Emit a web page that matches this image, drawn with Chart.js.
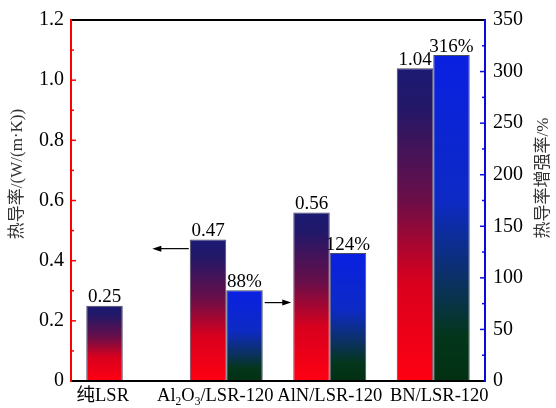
<!DOCTYPE html>
<html>
<head>
<meta charset="utf-8">
<script src="https://cdn.jsdelivr.net/npm/chart.js@4"></script>
<style>
  html, body { margin: 0; padding: 0; background: #fff; }
  #wrap { width: 556px; height: 408px; }
</style>
</head>
<body>
<div id="wrap"><canvas id="myChart" width="556" height="408"></canvas></div>
<script>
const categories = ['纯LSR', 'Al₂O₃/LSR-120', 'AlN/LSR-120', 'BN/LSR-120'];
const conductivity = [0.25, 0.47, 0.56, 1.04];
const enhancement = [null, 88, 124, 316];
const leftTitle = '热导率/(W/(m·K))';
const rightTitle = '热导率增强率/%';

// small horizontal nudges of the category labels (px), as in the figure
const labelNudge = [-20, -11, 0, 6];

const SERIF = '"Liberation Serif", "Noto Sans CJK SC", serif';
const RED = '#ff0000';
const BLUE = '#0a0ae0';

function redFill(c) {
  const chart = c.chart;
  const v = c.parsed ? c.parsed.y : null;
  if (!chart.chartArea || v == null) return '#e00020';
  const top = chart.scales.y.getPixelForValue(v);
  const bottom = chart.scales.y.getPixelForValue(0);
  const g = chart.ctx.createLinearGradient(0, top, 0, bottom);
  g.addColorStop(0, '#1c1a74');
  g.addColorStop(0.12, '#221868');
  g.addColorStop(0.42, '#6a0e48');
  g.addColorStop(0.68, '#d8001e');
  g.addColorStop(1, '#ff0012');
  return g;
}

function blueFill(c) {
  const chart = c.chart;
  const v = c.parsed ? c.parsed.y : null;
  if (!chart.chartArea || v == null) return '#1030c0';
  const top = chart.scales.y1.getPixelForValue(v);
  const bottom = chart.scales.y1.getPixelForValue(0);
  const g = chart.ctx.createLinearGradient(0, top, 0, bottom);
  g.addColorStop(0, '#0a20e2');
  g.addColorStop(0.45, '#0d2ac4');
  g.addColorStop(0.68, '#0c3068');
  g.addColorStop(0.86, '#04361c');
  g.addColorStop(1, '#023012');
  return g;
}

const subMap = { '₂': '2', '₃': '3' };

function drawRich(ctx, text, cx, y, size) {
  const runs = [];
  for (const ch of text) {
    const sub = subMap[ch] !== undefined;
    const t = sub ? subMap[ch] : ch;
    const last = runs[runs.length - 1];
    if (last && last.sub === sub) last.t += t; else runs.push({ t, sub });
  }
  let total = 0;
  runs.forEach(r => {
    ctx.font = (r.sub ? size * 0.62 : size) + 'px ' + SERIF;
    r.w = ctx.measureText(r.t).width;
    total += r.w;
  });
  let x = cx - total / 2;
  ctx.textAlign = 'left';
  ctx.textBaseline = 'alphabetic';
  runs.forEach(r => {
    ctx.font = (r.sub ? size * 0.62 : size) + 'px ' + SERIF;
    ctx.fillText(r.t, x, r.sub ? y + size * 0.22 : y);
    x += r.w;
  });
}

function arrow(ctx, x1, y, x2) {
  const dir = x2 > x1 ? 1 : -1;
  ctx.beginPath();
  ctx.moveTo(x1, y);
  ctx.lineTo(x2 - dir * 6, y);
  ctx.stroke();
  ctx.beginPath();
  ctx.moveTo(x2, y);
  ctx.lineTo(x2 - dir * 9, y - 3);
  ctx.lineTo(x2 - dir * 9, y + 3);
  ctx.closePath();
  ctx.fill();
}

const decor = {
  id: 'decor',
  afterDraw(chart) {
    const ctx = chart.ctx;
    const a = chart.chartArea;
    const y = chart.scales.y, y1 = chart.scales.y1, x = chart.scales.x;
    ctx.save();

    // value labels
    ctx.fillStyle = '#000';
    ctx.textAlign = 'center';
    ctx.textBaseline = 'bottom';
    ctx.font = '19px ' + SERIF;
    chart.getDatasetMeta(0).data.forEach((el, i) => {
      if (conductivity[i] == null) return;
      ctx.fillText(conductivity[i].toFixed(2), el.x, el.y + 1);
    });
    chart.getDatasetMeta(1).data.forEach((el, i) => {
      if (enhancement[i] == null) return;
      ctx.fillText(enhancement[i] + '%', el.x, el.y + 1);
    });

    // frame
    ctx.lineWidth = 2;
    ctx.strokeStyle = '#000';
    ctx.beginPath();
    ctx.moveTo(a.left, a.top); ctx.lineTo(a.right, a.top);
    ctx.moveTo(a.left, a.bottom); ctx.lineTo(a.right, a.bottom);
    ctx.stroke();
    ctx.strokeStyle = RED;
    ctx.beginPath(); ctx.moveTo(a.left, a.top - 1); ctx.lineTo(a.left, a.bottom + 1); ctx.stroke();
    ctx.strokeStyle = BLUE;
    ctx.beginPath(); ctx.moveTo(a.right, a.top - 1); ctx.lineTo(a.right, a.bottom + 1); ctx.stroke();

    // inward ticks
    ctx.lineWidth = 1.5;
    ctx.strokeStyle = RED;
    for (let k = 1; k < 12; k++) {
      const py = y.getPixelForValue(k / 10);
      const len = k % 2 === 0 ? 5 : 3;
      ctx.beginPath(); ctx.moveTo(a.left, py); ctx.lineTo(a.left + len, py); ctx.stroke();
    }
    ctx.strokeStyle = BLUE;
    for (let v = 25; v < 350; v += 25) {
      const py = y1.getPixelForValue(v);
      const len = v % 50 === 0 ? 5 : 3;
      ctx.beginPath(); ctx.moveTo(a.right, py); ctx.lineTo(a.right - len, py); ctx.stroke();
    }

    // arrows
    ctx.strokeStyle = '#000';
    ctx.fillStyle = '#000';
    ctx.lineWidth = 1.2;
    const b0 = chart.getDatasetMeta(0).data[1];
    const ay = y.getPixelForValue(0.44);
    arrow(ctx, b0.x - b0.width / 2 - 1, ay, b0.x - b0.width * 1.5 - 1);
    const b1 = chart.getDatasetMeta(1).data[1];
    const b2 = chart.getDatasetMeta(0).data[2];
    const by = y1.getPixelForValue(76);
    arrow(ctx, b1.x + b1.width / 2 + 2, by, b2.x - b2.width / 2 - 2);

    // category labels
    ctx.fillStyle = '#000';
    categories.forEach((c, i) => {
      drawRich(ctx, c, x.getPixelForValue(i) + labelNudge[i], 401, 18.5);
    });

    // axis titles
    ctx.fillStyle = '#333';
    ctx.font = '17px ' + SERIF;
    ctx.textAlign = 'center';
    ctx.textBaseline = 'middle';
    ctx.save();
    ctx.translate(18, 174);
    ctx.rotate(-Math.PI / 2);
    ctx.fillText(leftTitle, 0, 0);
    ctx.restore();
    ctx.save();
    ctx.translate(544, 178);
    ctx.rotate(-Math.PI / 2);
    ctx.fillText(rightTitle, 0, 0);
    ctx.restore();

    ctx.restore();
  }
};

const data = {
  labels: categories,
  datasets: [
    {
      label: '热导率',
      data: conductivity,
      yAxisID: 'y',
      backgroundColor: redFill,
      borderColor: 'rgba(20,10,40,0.75)',
      borderWidth: 1,
      categoryPercentage: 0.705,
      barPercentage: 1.0
    },
    {
      label: '热导率增强率',
      data: enhancement,
      yAxisID: 'y1',
      backgroundColor: blueFill,
      borderColor: 'rgba(10,20,40,0.75)',
      borderWidth: 1,
      categoryPercentage: 0.705,
      barPercentage: 1.0
    }
  ]
};

const config = {
  type: 'bar',
  data: data,
  plugins: [decor],
  options: {
    responsive: false,
    animation: false,
    layout: { padding: { top: 18, left: 0, right: 0, bottom: 0 } },
    plugins: {
      legend: { display: false },
      tooltip: { enabled: false }
    },
    scales: {
      x: {
        grid: { display: false, drawTicks: false },
        border: { display: false },
        ticks: { display: false },
        afterFit(s) { s.height = 27; }
      },
      y: {
        position: 'left',
        min: 0,
        max: 1.2,
        grid: { display: false, drawTicks: false },
        border: { display: false },
        ticks: {
          stepSize: 0.2,
          padding: 7,
          color: '#000',
          font: { family: SERIF, size: 20 },
          callback: function (value) {
            return value === 0 ? '0' : value.toFixed(1);
          }
        },
        afterFit(s) { s.width = 71; }
      },
      y1: {
        position: 'right',
        min: 0,
        max: 350,
        grid: { display: false, drawTicks: false },
        border: { display: false },
        ticks: {
          stepSize: 50,
          padding: 8,
          color: '#000',
          font: { family: SERIF, size: 20 }
        },
        afterFit(s) { s.width = 71; }
      }
    }
  }
};

const myChart = new Chart(document.getElementById('myChart').getContext('2d'), config);
</script>
</body>
</html>
